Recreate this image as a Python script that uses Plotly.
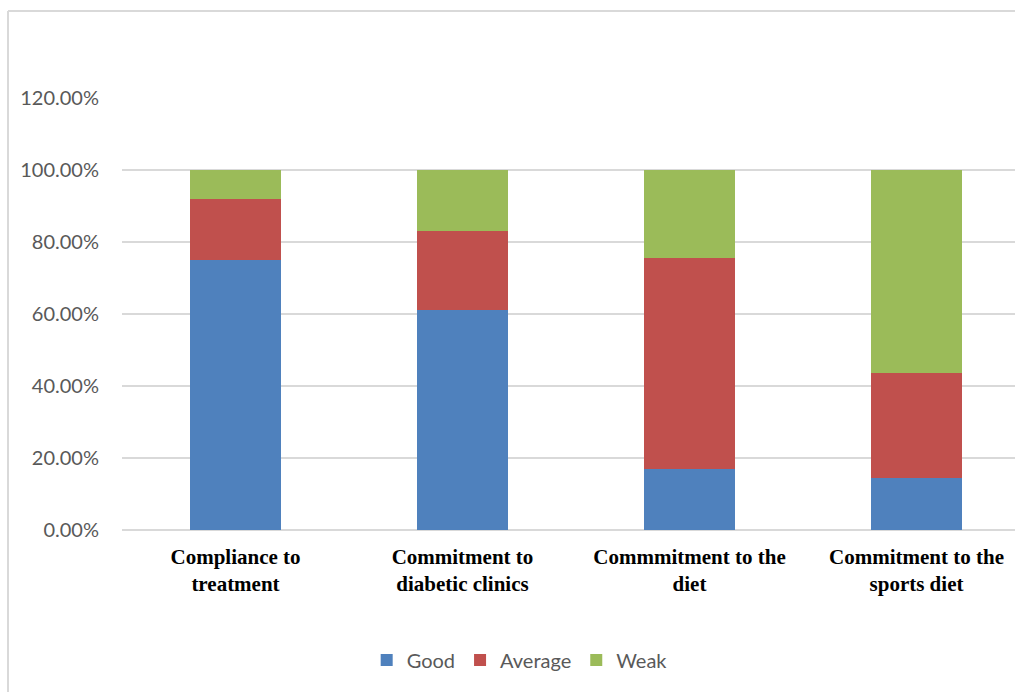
import plotly.graph_objects as go

categories = [
    "Compliance to<br>treatment",
    "Commitment to<br>diabetic clinics",
    "Commmitment to the<br>diet",
    "Commitment to the<br>sports diet",
]
good = [0.75, 0.612, 0.17, 0.145]
average = [0.17, 0.218, 0.586, 0.29]
weak = [0.08, 0.17, 0.244, 0.565]

series = [
    ("Good", good, "#4F81BD"),
    ("Average", average, "#C0504D"),
    ("Weak", weak, "#9BBB59"),
]

fig = go.Figure()
for name, vals, color in series:
    fig.add_trace(go.Bar(
        name=name,
        x=list(range(len(categories))),
        y=vals,
        marker=dict(color=color, line=dict(width=0)),
    ))

W, H = 1015, 692
left, right, top, bottom = 122, 0, 98, 162

fig.update_layout(
    width=W, height=H,
    barmode="stack",
    bargap=0.6,
    paper_bgcolor="white",
    plot_bgcolor="white",
    margin=dict(l=left, r=right, t=top, b=bottom, pad=0),
    font=dict(family="Lato, Open Sans, sans-serif", size=18, color="#595959"),
    legend=dict(
        orientation="h",
        xref="container", yref="container",
        x=0.512, y=1 - 660 / H,
        xanchor="center", yanchor="middle",
        font=dict(size=20, color="#595959"),
        itemwidth=30,
        traceorder="normal",
    ),
    xaxis=dict(
        range=[-0.5, 3.434],
        tickmode="array",
        tickvals=list(range(len(categories))),
        ticktext=[f"<b>{c}</b>" for c in categories],
        tickfont=dict(family="Liberation Serif, serif", size=21, color="black"),
        ticklabelstandoff=12,
        showgrid=False,
        showline=False,
        ticks="",
    ),
    yaxis=dict(
        range=[0, 1.2],
        dtick=0.2,
        tickformat=".2%",
        gridcolor="#d9d9d9",
        gridwidth=1.5,
        zeroline=True,
        zerolinecolor="#d9d9d9",
        zerolinewidth=1.5,
        showline=False,
        ticks="",
        ticklen=0,
        ticklabelstandoff=22,
        tickfont=dict(size=20, color="#595959"),
    ),
    shapes=[
        dict(type="line", xref="paper", yref="paper",
             x0=(8 - left) / (W - left - right), x1=(8 - left) / (W - left - right),
             y0=(H - bottom - 11) / (H - top - bottom), y1=(H - bottom - 700) / (H - top - bottom),
             line=dict(color="#d9d9d9", width=2)),
        dict(type="line", xref="paper", yref="paper",
             x0=(8 - left) / (W - left - right), x1=1.05,
             y0=(H - bottom - 11) / (H - top - bottom), y1=(H - bottom - 11) / (H - top - bottom),
             line=dict(color="#d9d9d9", width=2)),
    ],
)

fig.write_html("out.html")
